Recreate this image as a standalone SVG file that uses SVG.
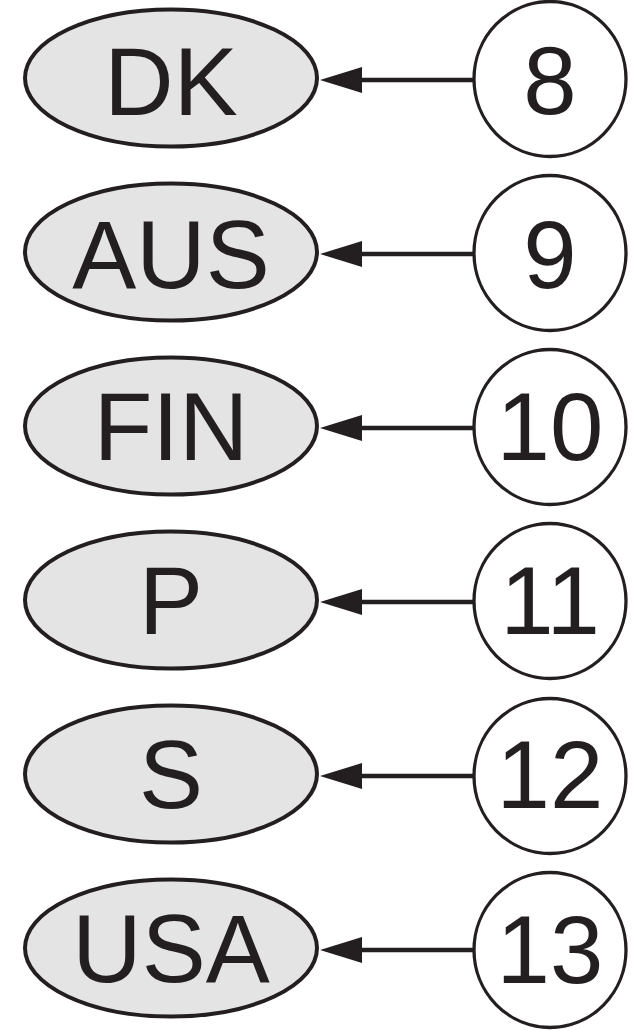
<svg xmlns="http://www.w3.org/2000/svg" width="640" height="1030" viewBox="0 0 640 1030">
<defs>
<style>
.country ellipse{fill:#e4e4e4;stroke:#231f20;stroke-width:4}
.num ellipse{fill:#ffffff;stroke:#231f20;stroke-width:3.3}
text{font-family:"Liberation Sans",Arial,sans-serif;font-size:96px;fill:#231f20;text-anchor:middle}
.edge{stroke:#231f20;stroke-width:4.5;fill:none}
</style>
<marker id="arrow" viewBox="0 0 42 26" refX="0" refY="13" markerWidth="42" markerHeight="26" markerUnits="userSpaceOnUse" orient="auto">
<path d="M0,0 L42,13 L0,26 z" fill="#231f20"/>
</marker>
</defs>
<rect width="640" height="1030" fill="#ffffff"/>
<g id="connectors">
<line class="edge" x1="474" y1="80" x2="362" y2="80" marker-end="url(#arrow)"/>
<line class="edge" x1="474" y1="254" x2="362" y2="254" marker-end="url(#arrow)"/>
<line class="edge" x1="474" y1="428" x2="362" y2="428" marker-end="url(#arrow)"/>
<line class="edge" x1="474" y1="602" x2="362" y2="602" marker-end="url(#arrow)"/>
<line class="edge" x1="474" y1="776" x2="362" y2="776" marker-end="url(#arrow)"/>
<line class="edge" x1="474" y1="950" x2="362" y2="950" marker-end="url(#arrow)"/>
</g>
<g id="DK" class="country"><ellipse cx="171" cy="78" rx="146" ry="68.5"/><text x="171" y="115">DK</text></g>
<g id="AUS" class="country"><ellipse cx="171" cy="252" rx="146" ry="68.5"/><text x="171" y="288">AUS</text></g>
<g id="FIN" class="country"><ellipse cx="171" cy="426" rx="146" ry="68.5"/><text x="171" y="460">FIN</text></g>
<g id="P" class="country"><ellipse cx="171" cy="600" rx="146" ry="68.5"/><text x="171" y="634">P</text></g>
<g id="S" class="country"><ellipse cx="171" cy="774" rx="146" ry="68.5"/><text x="171" y="808">S</text></g>
<g id="USA" class="country"><ellipse cx="171" cy="948" rx="146" ry="68.5"/><text x="171" y="982">USA</text></g>
<g id="n8" class="num"><ellipse cx="550" cy="79" rx="76" ry="77.5"/><text x="550" y="114">8</text></g>
<g id="n9" class="num"><ellipse cx="550" cy="253" rx="76" ry="77.5"/><text x="550" y="288">9</text></g>
<g id="n10" class="num"><ellipse cx="550" cy="427" rx="76" ry="77.5"/><text x="550" y="460">10</text></g>
<g id="n11" class="num"><ellipse cx="550" cy="601" rx="76" ry="77.5"/><text x="550" y="634">11</text></g>
<g id="n12" class="num"><ellipse cx="550" cy="776" rx="76" ry="77.5"/><text x="550" y="808">12</text></g>
<g id="n13" class="num"><ellipse cx="550" cy="950" rx="76" ry="77.5"/><text x="550" y="983">13</text></g>
</svg>
